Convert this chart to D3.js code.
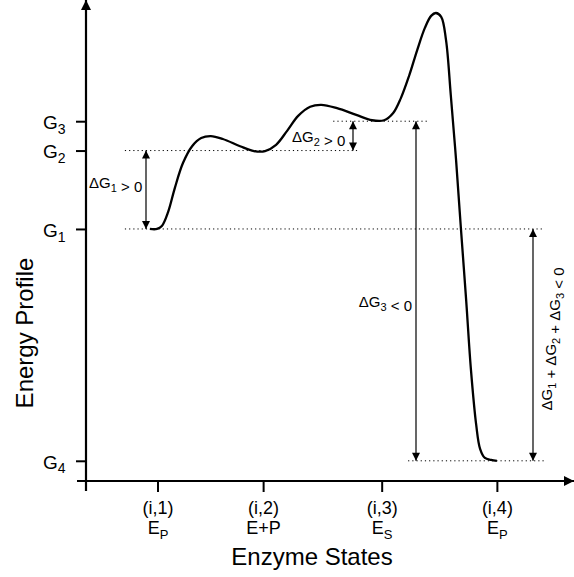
<!DOCTYPE html>
<html><head><meta charset="utf-8">
<script src="https://cdn.jsdelivr.net/npm/d3@7"></script>
<style>
html,body{margin:0;padding:0;background:#fff;}
text{font-family:"Liberation Sans",Arial,Helvetica,sans-serif;fill:#000;}
</style></head>
<body>
<svg id="chart" width="574" height="577"></svg>
<script>
// ---- data ----
const stateNames = ["(i,1)", "(i,2)", "(i,3)", "(i,4)"];
const stateBase = ["E", "E+P", "E", "E"];
const stateSub = ["P", "", "S", "P"];
const statePos = [14.9, 36.9, 61.6, 85.6];          // reaction coordinate
const levelNames = ["1", "2", "3", "4"];              // G subscripts
const levelValues = [52.4, 68.7, 74.8, 4.2];          // energy of G1..G4
const curveX = [13.3,14.8,15.8,17.1,18.5,20.2,22.1,24.0,26.0,28.5,32.1,35.0,37.3,39.6,41.9,44.2,46.7,49.0,52.3,56.3,59.6,62.1,64.0,65.6,67.3,69.0,70.6,71.9,72.9,74.0,75.0,76.0,77.1,78.1,79.2,80.2,81.3,82.1,83.1,84.4,85.6];
const curveE = [52.4,52.4,53.0,55.9,60.9,66.1,69.6,71.3,71.7,71.1,69.6,68.6,68.6,69.9,72.8,75.9,77.8,78.2,77.5,76.1,75.0,75.0,76.5,79.6,84.2,89.6,94.2,96.7,97.3,96.5,91.7,80.2,66.7,52.6,37.6,23.1,11.6,6.7,4.8,4.4,4.2];

const svg = d3.select("#chart");
const x = d3.scaleLinear().domain([0, 100]).range([86, 566]);
const y = d3.scaleLinear().domain([0, 100]).range([481, 0]);

// markers
const defs = svg.append("defs");
function marker(id, w, h) {
  defs.append("marker").attr("id", id).attr("viewBox", "0 0 10 10")
    .attr("refX", 10).attr("refY", 5).attr("markerUnits", "userSpaceOnUse")
    .attr("markerWidth", w).attr("markerHeight", h).attr("orient", "auto-start-reverse")
    .append("path").attr("d", "M0,0 L10,5 L0,10 Z").attr("fill", "#000");
}
marker("ax", 10, 10);
marker("ar", 10, 8);

// dotted level lines: [level index, from, to]
const dot = svg.append("g");
[[1, 8.1, 57.1], [0, 8.1, 95.6], [2, 51.5, 71.3], [3, 67.1, 95.6]].forEach(([i, a, b]) => {
  dot.append("line").attr("x1", x(a)).attr("x2", x(b))
    .attr("y1", y(levelValues[i])).attr("y2", y(levelValues[i]))
    .attr("stroke", "#000").attr("stroke-width", 1).attr("stroke-dasharray", "1.2,3");
});

// axes
const yAxis = d3.axisLeft(y).tickValues(levelValues).tickSize(10).tickFormat("");
const yg = svg.append("g").attr("transform", `translate(${x(0)},0)`).call(yAxis);
yg.select(".domain").remove();
yg.selectAll(".tick line").attr("stroke", "#000").attr("stroke-width", 2);
yg.selectAll(".tick").each(function(d, i) {
  const t = d3.select(this).append("text").attr("x", -43).attr("dy", "0.38em")
    .attr("text-anchor", "start").style("font-size", "19px");
  t.append("tspan").text("G");
  t.append("tspan").attr("dy", "0.35em").style("font-size", "14px").text(levelNames[i]);
});

const xAxis = d3.axisBottom(x).tickValues(statePos).tickSize(11).tickFormat("");
const xg = svg.append("g").attr("transform", `translate(0,${y(0)})`).call(xAxis);
xg.select(".domain").remove();
xg.selectAll(".tick line").attr("stroke", "#000").attr("stroke-width", 2);
xg.selectAll(".tick").each(function(d, i) {
  const g = d3.select(this);
  g.append("text").attr("y", 33).attr("text-anchor", "middle").style("font-size", "18px").text(stateNames[i]);
  const t = g.append("text").attr("y", 53).attr("text-anchor", "middle").style("font-size", "18px");
  t.append("tspan").text(stateBase[i]);
  if (stateSub[i]) t.append("tspan").attr("dy", "0.35em").style("font-size", "13px").text(stateSub[i]);
});

// axis lines with arrows
svg.append("line").attr("x1", x(0)).attr("x2", x(0)).attr("y1", y(0) + 10).attr("y2", 0)
  .attr("stroke", "#000").attr("stroke-width", 2.2).attr("marker-end", "url(#ax)");
svg.append("line").attr("x1", x(0) - 9).attr("x2", 574).attr("y1", y(0)).attr("y2", y(0))
  .attr("stroke", "#000").attr("stroke-width", 2.2).attr("marker-end", "url(#ax)");

// axis titles
svg.append("text").attr("x", x(50) - 14).attr("y", 565).attr("text-anchor", "middle")
  .style("font-size", "24px").text("Enzyme States");
svg.append("text").attr("transform", "translate(33,333) rotate(-90)").attr("text-anchor", "middle")
  .style("font-size", "24px").text("Energy Profile");

// energy curve
const pts = curveX.map((v, i) => [v, curveE[i]]);
svg.append("path").datum(pts)
  .attr("d", d3.line().x(d => x(d[0])).y(d => y(d[1])).curve(d3.curveCatmullRom.alpha(0.5)))
  .attr("fill", "none").attr("stroke", "#000").attr("stroke-width", 2.3);

// double arrows
function dArrow(px, e1, e2) {
  svg.append("line").attr("x1", px).attr("x2", px).attr("y1", y(e1)).attr("y2", y(e2))
    .attr("stroke", "#000").attr("stroke-width", 1.2)
    .attr("marker-start", "url(#ar)").attr("marker-end", "url(#ar)");
}
dArrow(146, levelValues[1], levelValues[0]);
dArrow(353, levelValues[2], levelValues[1]);
dArrow(416, levelValues[2], levelValues[3]);
dArrow(533, levelValues[0], levelValues[3]);

function label(sel, parts) {
  parts.forEach(([s, sub]) => {
    sel.append("tspan").attr("dy", 0).text(s);
    if (sub) {
      sel.append("tspan").attr("dy", 4).style("font-size", "11px").text(sub);
      sel.append("tspan").attr("dy", -4).text("");
    }
  });
}
label(svg.append("text").attr("x", 89).attr("y", 188).style("font-size", "15px"),
  [["ΔG", "1"], [" > 0"]]);
label(svg.append("text").attr("x", 292).attr("y", 142).style("font-size", "15px"),
  [["ΔG", "2"], [" > 0"]]);
label(svg.append("text").attr("x", 412).attr("y", 307).attr("text-anchor", "end").style("font-size", "15px"),
  [["ΔG", "3"], [" < 0"]]);
label(svg.append("text").attr("transform", "translate(552,339) rotate(-90)").attr("text-anchor", "middle").style("font-size", "15px"),
  [["ΔG", "1"], [" + ΔG", "2"], [" + ΔG", "3"], [" < 0"]]);
</script>
</body></html>
